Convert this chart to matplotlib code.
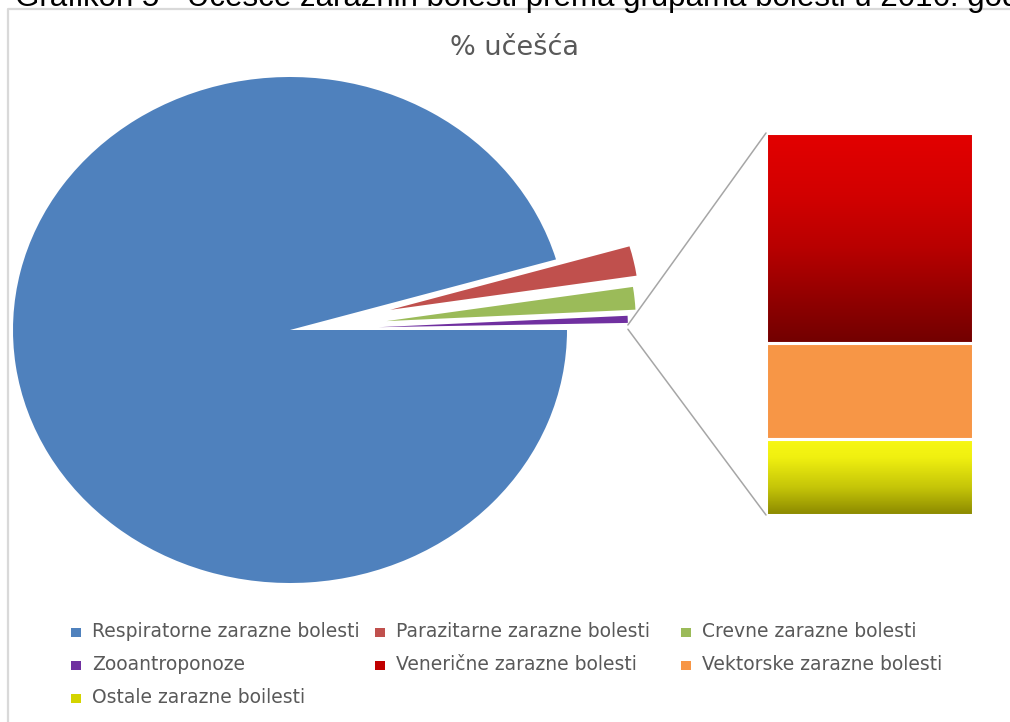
import numpy as np
import matplotlib
matplotlib.use("Agg")
import matplotlib.pyplot as plt
from matplotlib.patches import Rectangle, ConnectionPatch
from matplotlib.lines import Line2D
from matplotlib.colors import LinearSegmentedColormap

# ---------------- data ----------------
pie_labels = ["Respiratorne zarazne bolesti", "Parazitarne zarazne bolesti",
              "Crevne zarazne bolesti", "Zooantroponoze"]
pie_values = [95.5, 2.1, 1.6, 0.5]
bar_labels = ["Venerične zarazne bolesti", "Vektorske zarazne bolesti",
              "Ostale zarazne boilesti"]
bar_values = [0.165, 0.075, 0.06]
pie_colors = ["#4f81bd", "#c0504d", "#9bbb59", "#7030a0"]
bar_colors = ["#c00000", "#f79646", "#d4d400"]
title = "% učešća"
caption = "Grafikon 5 - Učešće zaraznih bolesti prema grupama bolesti u 2016. god"

W, H = 1010, 722
fig = plt.figure(figsize=(W / 100, H / 100), dpi=100)

# ---------------- pie ----------------
ax = fig.add_axes([0, 0, 1, 1])
cx, cy, rx, ry = 290, 330, 277, 253
other = sum(bar_values)
vals = pie_values + [other]
wedges, _ = ax.pie(vals, colors=pie_colors + ["#a5a5a5"], startangle=0,
                   counterclock=False, explode=[0, 0.37, 0.35, 0.32, 0.32],
                   wedgeprops=dict(linewidth=0))
for w in wedges[1:]:
    w.set_radius(0.9)
wedges[-1].set_visible(False)
ax.set_aspect("auto")
ax.set_xlim(-cx / rx, (W - cx) / rx)
ax.set_ylim((cy - H) / ry, cy / ry)
ax.axis("off")

# ---------------- bar of pie ----------------
bx0, bx1, by0, by1 = 766, 973, 515, 133
axb = fig.add_axes([bx0 / W, 1 - by0 / H, (bx1 - bx0) / W, (by0 - by1) / H])
axb.set_xlim(-0.5, 0.5)
axb.set_ylim(0, other)
axb.axis("off")

red_cmap = LinearSegmentedColormap.from_list(
    "r", [(0, "#720000"), (0.2, "#900000"), (0.45, "#b80000"),
          (0.7, "#d20000"), (1, "#e30000")])
yel_cmap = LinearSegmentedColormap.from_list(
    "y", [(0, "#8a8800"), (0.35, "#c4c408"), (0.75, "#f0f010"), (1, "#f8f814")])
grads = {bar_labels[0]: red_cmap, bar_labels[2]: yel_cmap}
grad = np.linspace(0, 1, 256).reshape(-1, 1)

bottom = 0.0
for lab, val, col in zip(bar_labels[::-1], bar_values[::-1], bar_colors[::-1]):
    b = axb.bar(0, val, bottom=bottom, width=1, color=col, linewidth=0)[0]
    if lab in grads:
        im = axb.imshow(grad, extent=(-0.5, 0.5, bottom, bottom + val),
                        origin="lower", aspect="auto", cmap=grads[lab], zorder=3)
        im.set_clip_path(b)
    axb.bar(0, val, bottom=bottom, width=1, facecolor="none",
            edgecolor="white", linewidth=2.2, zorder=5)
    bottom += val
axb.set_xlim(-0.5, 0.5)
axb.set_ylim(0, other)

# connector lines from the "other" wedge to the bar
wo = wedges[-1]
(ox, oy), r = wo.center, wo.r
t1, t2 = np.radians(wo.theta1), np.radians(wo.theta2)
p_top = (ox + r * np.cos(t2), oy + r * np.sin(t2))
p_bot = (ox + r * np.cos(t1), oy + r * np.sin(t1))
for pa, pb in [(p_top, (-0.5, other)), (p_bot, (-0.5, 0))]:
    con = ConnectionPatch(xyA=pa, coordsA=ax.transData, xyB=pb, coordsB=axb.transData,
                          color="#a6a6a6", linewidth=1.1)
    fig.add_artist(con)

# ---------------- texts ----------------
fig.text(515 / W, 1 - 55 / H, title, ha="center", va="baseline",
         fontsize=19.5, color="#595959")
fig.text(15 / W, 1 - 6 / H, caption, ha="left", va="baseline",
         fontsize=22.5, family="Liberation Sans", color="black")

# chart frame
fig.add_artist(Line2D([8 / W, 8 / W, 1.0], [0.0, 1 - 9 / H, 1 - 9 / H],
                      transform=fig.transFigure, color="#d9d9d9", linewidth=1.6))

# ---------------- legend ----------------
legend_labels = pie_labels + bar_labels
legend_colors = pie_colors + bar_colors
text_x = [92, 396, 702]
baselines = [637, 670, 703]
for i, (lab, col) in enumerate(zip(legend_labels, legend_colors)):
    rr, cc = divmod(i, 3)
    tx, bl = text_x[cc], baselines[rr]
    fig.add_artist(Rectangle(((tx - 21) / W, 1 - (bl) / H), 10 / W, 9 / H,
                             transform=fig.transFigure, facecolor=col, edgecolor="none"))
    fig.text(tx / W, 1 - bl / H, lab, ha="left", va="baseline",
             fontsize=13.5, color="#595959")

fig.savefig("out.png", dpi=100)
